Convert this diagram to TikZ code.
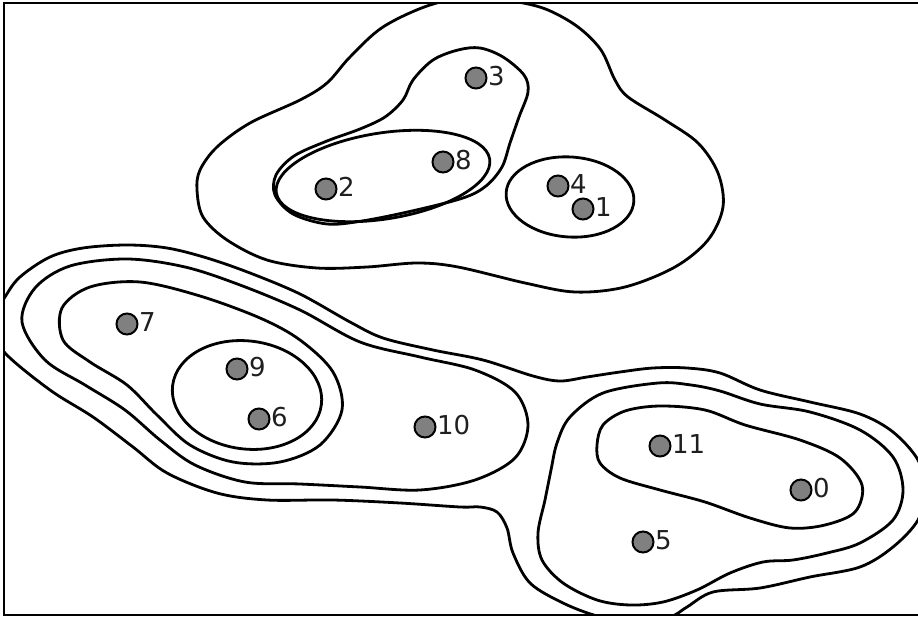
\documentclass[tikz,border=0pt]{standalone}
\usepackage{fontspec}
\setmainfont{DejaVu Sans}
\begin{document}
\begin{tikzpicture}[x=1pt,y=-1pt,
  contour/.style={draw=black,line width=2.8pt},
  pt/.style={circle,draw=black,fill=black!50,line width=2pt,minimum size=21pt,inner sep=0pt},
  lab/.style={anchor=west,inner sep=0pt,font=\fontsize{26}{30}\selectfont,text=black!88}]
\useasboundingbox (0,0) rectangle (918,617);
\begin{scope}
\clip (4,3) rectangle (930,615);
% top group outer
\draw[contour] plot[smooth cycle,tension=0.55] coordinates {(430,5) (383,27) (350,57) (327,83) (300,100) (250,123) (217,147) (200,170) (197,190) (203,217) (227,240) (267,260) (317,268) (367,267) (417,263) (458,267) (525,283) (575,292) (625,287) (675,267) (708,240) (723,207) (718,173) (698,143) (665,120) (628,97) (615,80) (601,50) (578,27) (548,10) (518,2) (475,-3)};
% 3-8-2
\draw[contour] plot[smooth cycle,tension=0.55] coordinates {(403,100) (413,80) (433,60) (458,50) (480,48) (503,57) (524,75) (528,92) (519,117) (510,143) (502,167) (486,186) (463,198) (412,211) (362,221) (327,224) (293,214) (275,195) (276,175) (294,156) (327,141) (360,129) (385,117)};
% 2-8
\draw[contour] (383,176) ellipse [x radius=108, y radius=43, rotate=9];
% 4-1
\draw[contour] (570,197) ellipse [x radius=64, y radius=40, rotate=-4];
% 9-6
\draw[contour] (247,395) ellipse [x radius=75, y radius=54, rotate=-7.6];
% 7-9-6
\draw[contour] plot[smooth cycle,tension=0.55] coordinates {(63,340) (90,362) (127,385) (157,415) (190,445) (233,462) (280,462) (320,445) (342,410) (333,372) (300,340) (260,318) (200,296) (140,282) (90,287) (62,308)};
% 7-9-6-10
\draw[contour] plot[smooth cycle,tension=0.55] coordinates {(22,322) (35,288) (70,266) (127,259) (185,267) (240,285) (300,310) (360,342) (420,357) (475,370) (515,392) (528,425) (515,458) (475,480) (420,490) (360,487) (300,484) (245,482) (195,465) (160,440) (125,410) (85,385) (45,360)};
% outer big
\draw[contour] plot[smooth cycle,tension=0.55] coordinates {(-10,325) (5,297) (20,277) (50,257) (83,248) (127,245) (167,248) (207,258) (250,273) (300,294) (350,322) (383,338) (433,350) (483,360) (533,376) (560,381) (587,377) (620,372) (653,368) (687,368) (720,373) (760,390) (810,402) (860,414) (893,432) (918,460) (925,490) (918,520) (893,547) (860,567) (810,577) (760,588) (713,592) (687,607) (670,617) (635,624) (597,616) (563,603) (530,583) (513,553) (507,528) (497,512) (480,507) (460,507) (400,503) (333,500) (267,500) (217,493) (167,473) (133,447) (93,417) (50,390) (5,353)};
% 11-0-5
\draw[contour] plot[smooth cycle,tension=0.55] coordinates {(658,383) (603,393) (570,417) (557,443) (551,470) (545,500) (538,533) (542,560) (563,583) (597,600) (630,605) (663,602) (697,590) (730,573) (763,562) (793,560) (827,553) (860,543) (893,520) (903,490) (893,457) (860,430) (810,412) (760,404) (720,391) (691,385)};
% 11-0
\draw[contour] plot[smooth cycle,tension=0.55] coordinates {(597,445) (603,425) (625,411) (660,406) (705,410) (745,425) (800,440) (840,458) (862,485) (855,512) (825,525) (790,528) (750,518) (705,502) (660,490) (620,478) (600,463)};
\end{scope}
% frame
\draw[line width=2pt] (930,3) -- (4,3) -- (4,615) -- (930,615);
% points
\foreach \n/\x/\y in {0/801/490,1/583/209,2/326/189,3/476/78,4/558/186,5/643/542,6/259/419,7/127/324,8/443/162,9/237/369,10/425/427,11/660/446}{
  \node[pt] (p\n) at (\x,\y) {};
  \node[lab] (l\n) at ([xshift=12pt,yshift=2pt]p\n.center) {\n};
}
\end{tikzpicture}
\end{document}
